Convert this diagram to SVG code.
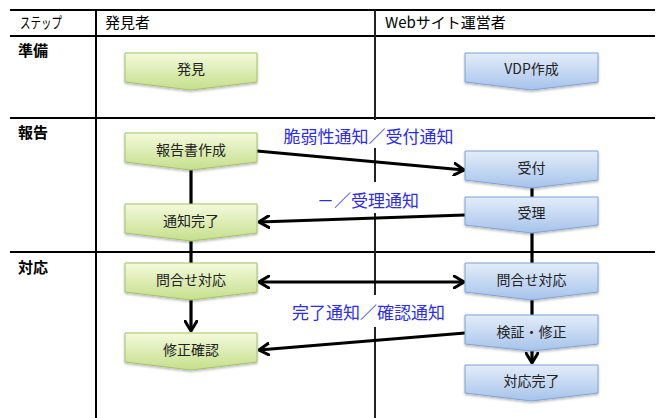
<svg xmlns="http://www.w3.org/2000/svg" width="659" height="418" viewBox="0 0 659 418">
  <defs>
    <linearGradient id="gGreen" x1="0" y1="0" x2="0" y2="1">
      <stop offset="0" stop-color="#f4fadc"/>
      <stop offset="1" stop-color="#c5df8b"/>
    </linearGradient>
    <linearGradient id="gBlue" x1="0" y1="0" x2="0" y2="1">
      <stop offset="0" stop-color="#e3edf9"/>
      <stop offset="1" stop-color="#a6c3eb"/>
    </linearGradient>
    <filter id="shadow" x="-10%" y="-20%" width="120%" height="150%">
      <feDropShadow dx="0" dy="1.5" stdDeviation="1.2" flood-color="#000" flood-opacity="0.28"/>
    </filter>
    <marker id="arrow" viewBox="0 0 12 14" refX="11" refY="7" markerWidth="12" markerHeight="14" markerUnits="userSpaceOnUse" orient="auto-start-reverse">
      <path d="M1,1 L11,7 L1,13" fill="none" stroke="#000" stroke-width="3" stroke-linecap="round" stroke-linejoin="miter"/>
    </marker>
  </defs>
  <style>
    .grid { stroke: #000; stroke-width: 2; fill: none; }
    .colline { stroke: #222; stroke-width: 2; fill: none; }
    .head { font-family: "Noto Sans CJK JP", "Noto Sans", sans-serif; font-size: 15px; fill: #000; }
    .step { font-family: "Noto Sans CJK JP", "Noto Sans", sans-serif; font-size: 15px; font-weight: bold; fill: #000; }
    .green { fill: url(#gGreen); stroke: #a3c266; stroke-width: 1; filter: url(#shadow); }
    .blue { fill: url(#gBlue); stroke: #7fa4d6; stroke-width: 1; filter: url(#shadow); }
    .ntext { font-family: "Noto Sans CJK JP", "Noto Sans", sans-serif; font-size: 14px; fill: #222; text-anchor: middle; dominant-baseline: central; }
    .conn { stroke: #000; stroke-width: 3.2; fill: none; }
    .lblbg { fill: #fff; }
    .lbl { font-family: "Noto Sans CJK JP", "Noto Sans", sans-serif; font-size: 17px; fill: #2b2bf2; text-anchor: middle; dominant-baseline: central; }
  </style>

  <!-- table grid -->
  <g id="table">
    <line class="grid" x1="10" y1="10" x2="655" y2="10"/>
    <line class="grid" x1="10" y1="36" x2="655" y2="36"/>
    <line class="grid" x1="10" y1="118" x2="655" y2="118"/>
    <line class="grid" x1="10" y1="252" x2="655" y2="252"/>
    <line class="grid" x1="96" y1="10" x2="96" y2="418"/>
    <line class="colline" x1="375" y1="10" x2="375" y2="418"/>
    <text class="head" x="20" y="28" textLength="42" lengthAdjust="spacingAndGlyphs">ステップ</text>
    <text class="head" x="105" y="28">発見者</text>
    <text class="head" x="385" y="28">Webサイト運営者</text>
    <text class="step" x="18" y="56">準備</text>
    <text class="step" x="18" y="138">報告</text>
    <text class="step" x="18" y="273">対応</text>
  </g>

  <!-- message labels sit on white plates over the column line -->
  <g id="labels">
    <rect class="lblbg" x="280" y="120" width="178" height="28"/>
    <text class="lbl" x="368.5" y="135.5">脆弱性通知／受付通知</text>
    <rect class="lblbg" x="315" y="182" width="106" height="31"/>
    <text class="lbl" x="368" y="199.5">－／受理通知</text>
    <rect class="lblbg" x="287" y="295" width="163" height="32"/>
    <text class="lbl" x="368.5" y="311.5">完了通知／確認通知</text>
  </g>

  <!-- connectors -->
  <g id="connectors">
    <line class="conn" x1="191" y1="165" x2="191" y2="263"/>
    <line class="conn" x1="191" y1="297" x2="191" y2="331" marker-end="url(#arrow)"/>
    <line class="conn" x1="532" y1="183" x2="532" y2="263"/>
    <line class="conn" x1="532" y1="297" x2="532" y2="315"/>
    <line class="conn" x1="532" y1="347" x2="532" y2="363" marker-end="url(#arrow)"/>
    <line class="conn" x1="257" y1="151" x2="464" y2="170" marker-end="url(#arrow)"/>
    <line class="conn" x1="465" y1="215" x2="259" y2="222" marker-end="url(#arrow)"/>
    <line class="conn" x1="259" y1="282" x2="464" y2="282" marker-start="url(#arrow)" marker-end="url(#arrow)"/>
    <line class="conn" x1="465" y1="333" x2="259" y2="350" marker-end="url(#arrow)"/>
  </g>

  <!-- finder column -->
  <g id="node-hakken">
    <path class="green" d="M125,53 H257 V82 L191,90 L125,82 Z"/>
    <text class="ntext" x="191" y="68">発見</text>
  </g>
  <g id="node-houkokusho">
    <path class="green" d="M125,133 H257 V162 L191,170 L125,162 Z"/>
    <text class="ntext" x="191" y="148.5">報告書作成</text>
  </g>
  <g id="node-tsuchikanryo">
    <path class="green" d="M125,204 H257 V233 L191,241 L125,233 Z"/>
    <text class="ntext" x="191" y="219.5">通知完了</text>
  </g>
  <g id="node-toiawase-finder">
    <path class="green" d="M125,263 H257 V292 L191,300 L125,292 Z"/>
    <text class="ntext" x="191" y="278.5">問合せ対応</text>
  </g>
  <g id="node-shuseikakunin">
    <path class="green" d="M125,333 H257 V362 L191,370 L125,362 Z"/>
    <text class="ntext" x="191" y="348.5">修正確認</text>
  </g>

  <!-- site operator column -->
  <g id="node-vdp">
    <path class="blue" d="M465,53 H598 V82 L531.5,90 L465,82 Z"/>
    <text class="ntext" x="531.5" y="68">VDP作成</text>
  </g>
  <g id="node-uketsuke">
    <path class="blue" d="M465,151 H598 V180 L531.5,188 L465,180 Z"/>
    <text class="ntext" x="531.5" y="166.5">受付</text>
  </g>
  <g id="node-juri">
    <path class="blue" d="M465,197 H598 V225 L531.5,233 L465,225 Z"/>
    <text class="ntext" x="531.5" y="212">受理</text>
  </g>
  <g id="node-toiawase-site">
    <path class="blue" d="M465,263 H598 V292 L531.5,300 L465,292 Z"/>
    <text class="ntext" x="531.5" y="278.5">問合せ対応</text>
  </g>
  <g id="node-kensho">
    <path class="blue" d="M465,315 H598 V344 L531.5,351 L465,344 Z"/>
    <text class="ntext" x="531.5" y="330.5">検証・修正</text>
  </g>
  <g id="node-taiokanryo">
    <path class="blue" d="M465,365 H598 V393 L531.5,401 L465,393 Z"/>
    <text class="ntext" x="531.5" y="380">対応完了</text>
  </g>
</svg>
